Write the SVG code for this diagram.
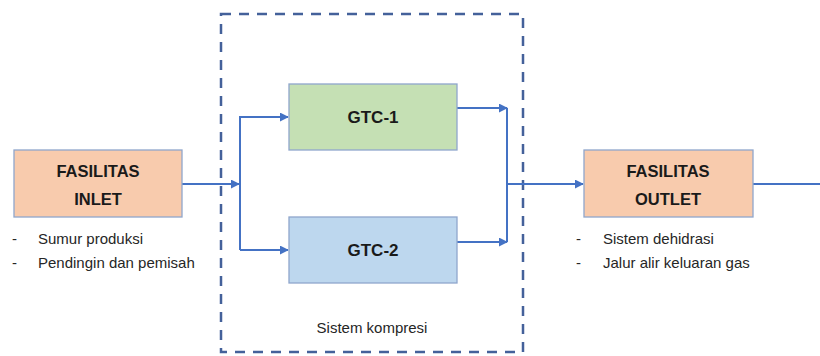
<svg xmlns="http://www.w3.org/2000/svg" width="820" height="356" viewBox="0 0 820 356">
<defs>
<style>
.box{stroke:#8FA6CC;stroke-width:1.3}
.fac{fill:#F8CBAD}
.g1{fill:#C5E0B4}
.g2{fill:#BDD7EE}
.title{font-family:"Liberation Sans",Arial,sans-serif;font-weight:bold;font-size:16.5px;fill:#1a1a1a;text-anchor:middle}
.txt{font-family:"Liberation Sans",Arial,sans-serif;font-size:15px;fill:#262626}
.conn{fill:none;stroke:#4472C4;stroke-width:2}
</style>
<marker id="ah" viewBox="0 0 10 10" refX="9" refY="5" markerWidth="4.5" markerHeight="4.5" orient="auto" markerUnits="strokeWidth">
<path d="M0,0 L10,5 L0,10 z" fill="#4472C4"/>
</marker>
</defs>
<rect x="221" y="14" width="302" height="338" fill="none" stroke="#44619A" stroke-width="2.5" stroke-dasharray="10,8"/>
<g id="connectors">
<path class="conn" d="M182,184 L239,184" marker-end="url(#ah)"/>
<path class="conn" d="M240,250 L240,117 L288,117" marker-end="url(#ah)"/>
<path class="conn" d="M240,250 L288,250" marker-end="url(#ah)"/>
<path class="conn" d="M457,108 L507,108" marker-end="url(#ah)"/>
<path class="conn" d="M457,242 L507,242" marker-end="url(#ah)"/>
<path class="conn" d="M507,108 L507,242"/>
<path class="conn" d="M507,184 L583,184" marker-end="url(#ah)"/>
<path class="conn" d="M753,184 L820,184"/>
</g>
<g id="inlet">
<rect class="box fac" x="14" y="150" width="168" height="67"/>
<text class="title" x="98" y="177">FASILITAS</text>
<text class="title" x="98" y="205">INLET</text>
<text class="txt" x="12" y="244">-</text>
<text class="txt" x="38" y="244">Sumur produksi</text>
<text class="txt" x="12" y="268">-</text>
<text class="txt" x="38" y="268">Pendingin dan pemisah</text>
</g>
<g id="gtc1">
<rect class="box g1" x="289" y="84" width="168" height="66"/>
<text class="title" x="373" y="123" style="font-size:17px">GTC-1</text>
</g>
<g id="gtc2">
<rect class="box g2" x="289" y="217" width="168" height="66"/>
<text class="title" x="373" y="256" style="font-size:17px">GTC-2</text>
</g>
<g id="sistem-kompresi">
<text class="txt" x="372" y="333" text-anchor="middle">Sistem kompresi</text>
</g>
<g id="outlet">
<rect class="box fac" x="584" y="150" width="169" height="67"/>
<text class="title" x="668" y="177">FASILITAS</text>
<text class="title" x="668" y="205">OUTLET</text>
<text class="txt" x="576" y="244">-</text>
<text class="txt" x="603" y="244">Sistem dehidrasi</text>
<text class="txt" x="576" y="268">-</text>
<text class="txt" x="603" y="268">Jalur alir keluaran gas</text>
</g>
</svg>
